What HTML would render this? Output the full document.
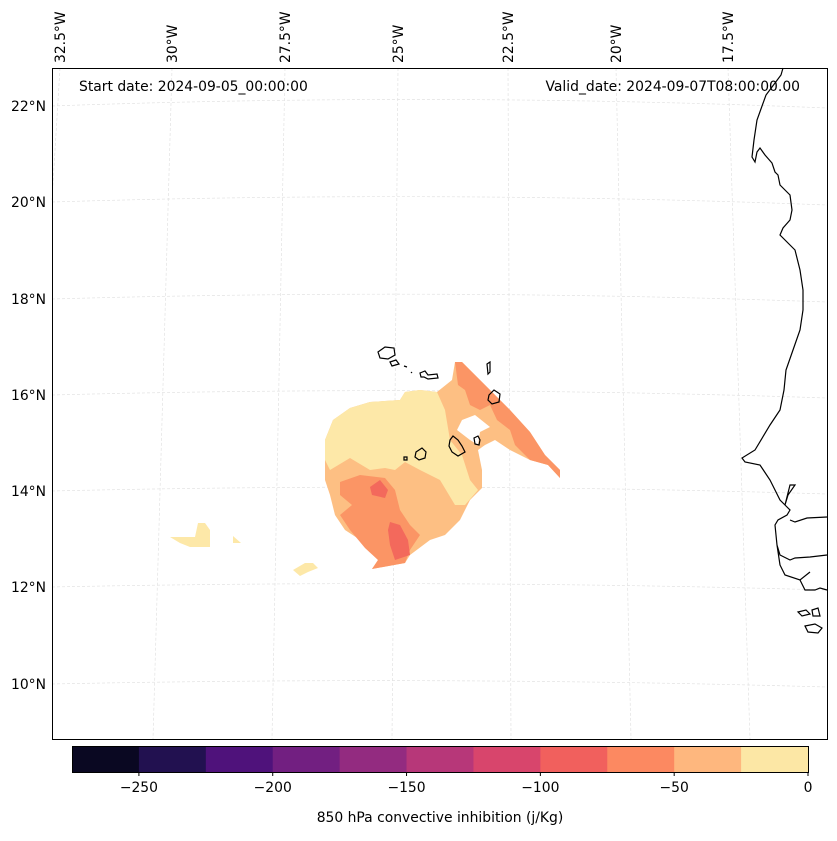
<!DOCTYPE html>
<html><head><meta charset="utf-8"><style>
body{margin:0;background:#fff;font-family:"Liberation Sans","DejaVu Sans",sans-serif}
svg text{font-family:"DejaVu Sans","Liberation Sans",sans-serif;font-size:13.9px;fill:#000}
</style></head><body>
<svg id="fig" width="837" height="836" viewBox="0 0 837 836" xmlns="http://www.w3.org/2000/svg">
<g stroke="#e2e2e2" stroke-width="0.7" stroke-dasharray="3,2" fill="none">
<path d="M52 106 Q440 92 827 108"/><path d="M52 202 Q440 190 827 205"/><path d="M52 299 Q440 288 827 302"/>
<path d="M52 395 Q440 385 827 398"/><path d="M52 491 Q440 482 827 494"/><path d="M52 587 Q440 579 827 590"/><path d="M52 684 Q440 676 827 687"/>
<path d="M60 68 L52 200"/><path d="M172 68 L153 739"/><path d="M285 68 L272 739"/><path d="M398 68 L392 739"/>
<path d="M508 68 L511 739"/><path d="M616 68 L631 739"/><path d="M728 68 L750 739"/>
</g>
<g>
<polygon fill="#fdbf83" points="325,440 333,420 350,408 370,402 400,400 405,392 420,390 437,392 452,380 455,362 462,362 480,380 510,410 530,432 545,455 560,470 560,478 548,465 530,460 510,450 495,440 485,445 478,450 482,470 482,488 470,500 460,520 445,535 430,540 410,555 405,563 372,569 378,560 368,545 345,530 335,515 330,495 325,480"/>
<polygon fill="#fde8a8" points="325,440 333,420 350,408 370,402 400,400 405,392 420,390 437,392 445,410 450,440 462,455 470,480 478,490 465,505 455,505 440,480 420,470 405,462 395,470 385,468 370,470 350,458 330,470 325,460"/>
<polygon fill="#fb9565" points="455,362 462,362 480,380 510,410 530,432 545,455 560,470 560,478 548,465 530,460 515,445 510,430 497,420 490,405 480,410 470,405 465,390 458,385"/>
<polygon fill="#fb9565" points="340,482 360,475 385,478 395,490 400,510 410,525 420,535 410,550 405,563 372,569 378,560 365,548 350,530 340,515 352,505 340,495"/>
<polygon fill="#f3695c" points="370,487 380,480 388,490 385,498 372,495"/>
<polygon fill="#f3695c" points="390,522 400,525 408,540 410,555 395,560 390,545 388,530"/>
<polygon fill="#fff" points="475,415 490,427 480,432 478,445 470,440 457,430 462,420"/>
<polygon fill="#fde8a8" points="170,537 195,537 198,523 205,523 210,530 210,547 190,547 180,543"/>
<polygon fill="#fde8a8" points="233,536 241,543 233,543"/>
<polygon fill="#fde8a8" points="293,570 305,563 313,563 318,568 308,572 300,576"/>
</g>
<g fill="none" stroke="#000" stroke-width="1.2">
<path d="M783 68 L781 75 L766 95 L757 120 L754 140 L752 157 L755 162 L757 152 L760 148 L765 155 L772 163 L775 172 L778 175 L780 185 L790 195 L792 210 L790 220 L783 228 L780 235 L785 240 L795 250 L800 270 L803 290 L803 310 L800 330 L793 350 L786 370 L784 390 L780 410 L770 425 L755 450 L742 458 L745 462 L760 465 L770 480 L775 490 L780 500 L785 505 L790 485 L795 485 L788 495 L785 505 L790 510 L787 515 L778 520 L775 525 L777 545 L780 555 L790 560 L795 558 L810 557 L827 555 M790 520 L795 522 L807 518 L827 517 M777 545 L780 565 L785 575 L800 580 L810 572 M800 580 L805 590 L815 590 L820 588 L827 590"/>
<path d="M798 612 L806 610 L810 614 L802 616Z M812 610 L818 608 L820 616 L813 616Z M805 626 L815 624 L822 628 L818 633 L808 632Z"/>
<path d="M378 352 L385 347 L394 348 L395 355 L388 359 L380 358Z M390 362 L396 360 L399 364 L392 366Z M404 366 L407 367 M411 372 L412 373 M420 373 L425 371 L428 375 L437 374 L438 378 L428 379 L424 377 L421 377Z M487 364 L490 362 L490 372 L488 374Z M489 395 L494 390 L500 394 L499 402 L492 404 L488 400Z M450 440 L453 436 L458 440 L462 446 L465 452 L458 456 L452 452 L449 446Z M474 438 L478 436 L480 440 L479 445 L475 444Z M416 452 L422 448 L426 452 L425 458 L419 460 L415 457Z M404 457 L407 457 L407 460 L404 460Z"/>
</g>
<rect x="52.5" y="68.5" width="775" height="671" fill="none" stroke="#000" stroke-width="1"/>
<text x="79" y="91">Start date: 2024-09-05_00:00:00</text>
<text x="800" y="91" text-anchor="end">Valid_date: 2024-09-07T08:00:00.00</text>
<g id="lonlabels"></g>
<g id="latlabels"></g>
<g id="cbar"></g>
<text x="440" y="822" text-anchor="middle">850 hPa convective inhibition (j/Kg)</text>
</svg>
<script>
const levels=[-275,-250,-225,-200,-175,-150,-125,-100,-75,-50,-25,0];
const levelColors=["#0a0822","#221150","#4f127b","#721f81","#932b80","#b73779","#d8456c","#f1605d","#fc8961","#feb77e","#fce7a5"];
const cbTicks=[-250,-200,-150,-100,-50,0];
const lonLabels=["32.5°W","30°W","27.5°W","25°W","22.5°W","20°W","17.5°W"];
const lonLabelX=[60,172,285,398,508,616,728];
const latLabels=["22°N","20°N","18°N","16°N","14°N","12°N","10°N"];
const latLabelY=[106,202,299,395,491,587,684];
const NS="http://www.w3.org/2000/svg";
const cx0=72,cx1=808,cy=746,ch=26;
const xs=v=>cx0+(v-levels[0])/(levels[levels.length-1]-levels[0])*(cx1-cx0);
const cb=document.getElementById('cbar');
for(let i=0;i<levelColors.length;i++){
 const r=document.createElementNS(NS,'rect');
 
 
 r.setAttribute('x',xs(levels[i]));r.setAttribute('y',cy);
 r.setAttribute('width',xs(levels[i+1])-xs(levels[i])+0.5);r.setAttribute('height',ch);
 r.setAttribute('fill',levelColors[i]);cb.appendChild(r);
}
const fr=document.createElementNS(NS,'rect');


fr.setAttribute('x',cx0+0.5);fr.setAttribute('y',cy+0.5);fr.setAttribute('width',cx1-cx0);fr.setAttribute('height',ch);
fr.setAttribute('fill','none');fr.setAttribute('stroke','#000');cb.appendChild(fr);
cbTicks.forEach(t=>{
 const l=document.createElementNS(NS,'line');
 
 
 l.setAttribute('x1',xs(t));l.setAttribute('x2',xs(t));l.setAttribute('y1',cy+ch);l.setAttribute('y2',cy+ch+4);l.setAttribute('stroke','#000');cb.appendChild(l);
 const tx=document.createElementNS(NS,'text');
 
 
 tx.setAttribute('x',xs(t));tx.setAttribute('y',cy+ch+20);tx.setAttribute('text-anchor','middle');
 tx.textContent=t<0?'\u2212'+Math.abs(t):String(t);cb.appendChild(tx);
});
const lg=document.getElementById('lonlabels');
lonLabels.forEach((s,i)=>{
 const tx=document.createElementNS(NS,'text');
 
 
 tx.setAttribute('transform','translate('+(lonLabelX[i]+5)+',63) rotate(-90)');
 tx.textContent=s;lg.appendChild(tx);
});
const la=document.getElementById('latlabels');
latLabels.forEach((s,i)=>{
 const tx=document.createElementNS(NS,'text');
 
 
 tx.setAttribute('x',46);tx.setAttribute('y',latLabelY[i]+5);tx.setAttribute('text-anchor','end');
 tx.textContent=s;la.appendChild(tx);
});
</script>
</body></html>
